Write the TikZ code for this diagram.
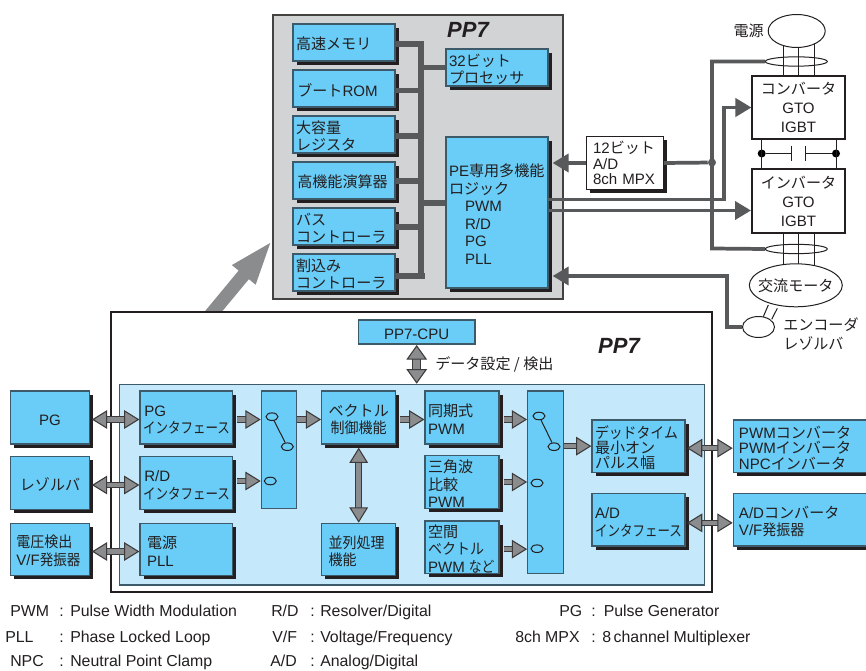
\documentclass[tikz,border=0pt]{standalone}
\usepackage{fontspec}
\usepackage{graphicx}
\setmainfont{Liberation Sans}
\newfontfamily\cjk{Noto Sans CJK JP}
\newcommand\jp[1]{{\cjk #1}}
\newcommand\jw[2]{\scalebox{#1}[1]{\cjk #2}}
\usetikzlibrary{arrows.meta,calc,shapes.geometric,shadows}
\definecolor{boxblue}{HTML}{69CDF7}
\definecolor{boxedge}{HTML}{3C5A6A}
\definecolor{lightblue}{HTML}{C5E9FA}
\definecolor{panelgray}{HTML}{D1D3D4}
\definecolor{wiregray}{HTML}{58595B}
\definecolor{arrgray}{HTML}{8A8C8E}
\definecolor{inkdark}{HTML}{231F20}
\tikzset{
  basefont/.style={font=\fontsize{11.3}{#1}\selectfont},
  basefont/.default=13.1,
  plainbox/.style={draw=boxedge,fill=boxblue,line width=.9pt,inner xsep=2.25pt,inner ysep=0pt,align=left,text=inkdark,basefont,execute at begin node={\rule{0pt}{12pt}}},
  shbox/.style={plainbox,general shadow={shadow xshift=2.8pt,shadow yshift=-2.8pt,fill=inkdark,draw=none}},
  whitebox/.style={draw=inkdark,fill=white,line width=.8pt,inner xsep=2.25pt,inner ysep=0pt,align=center,text=inkdark,basefont},
  bus/.style={draw=wiregray,line width=4.2pt},
  wire/.style={draw=wiregray,line width=2.8pt},
  wirearrow/.style={wire,-{Triangle[length=12pt,width=13.5pt,color=wiregray]}},
  blk/.style={draw=inkdark!75!arrgray,double=arrgray,line width=.8pt,double distance=3.4pt},
  blktip/.style={},
  blkone/.style={blk,-{Triangle[length=11.5pt,width=14pt,fill=arrgray,color=inkdark!75!arrgray,line width=.8pt]}},
  blktwo/.style={blk,{Triangle[length=11.5pt,width=14pt,fill=arrgray,color=inkdark!75!arrgray,line width=.8pt]}-{Triangle[length=11.5pt,width=14pt,fill=arrgray,color=inkdark!75!arrgray,line width=.8pt]}},
  blkwide/.style={draw=inkdark!75!arrgray,double=arrgray,line width=.8pt,double distance=5.4pt,{Triangle[length=11pt,width=15.5pt,fill=arrgray,color=inkdark!75!arrgray,line width=.8pt]}-{Triangle[length=11pt,width=15.5pt,fill=arrgray,color=inkdark!75!arrgray,line width=.8pt]}},
  thinl/.style={draw=inkdark,line width=.75pt},
  swc/.style={ellipse,draw=inkdark,line width=.75pt,inner sep=0pt,minimum width=9pt,minimum height=5.7pt},
  ring/.style={ellipse,draw=inkdark,line width=.75pt,inner sep=0pt,minimum width=46.5pt,minimum height=7pt},
  oval/.style={ellipse,draw=inkdark,fill=white,line width=.75pt,inner sep=0pt,align=center,text=inkdark,basefont},
  junction/.style={circle,inner sep=0pt,minimum size=6pt},
  lab/.style={text=inkdark,inner sep=0pt,align=left,basefont},
  ppsev/.style={text=inkdark,inner sep=0pt,font=\fontsize{16.5}{18}\selectfont\bfseries\itshape},
  legend/.style={text=inkdark,inner sep=0pt,anchor=base west,font=\fontsize{11.9}{13}\selectfont},
}
% [style]{name}{x1}{y1}{x2}{y2}{text}
\newcommand\bx[7][shbox]{%
  \node[#1,minimum width={(#5-#3)*.75pt},minimum height={(#6-#4)*.75pt},text width={(#5-#3)*.75pt-4.5pt}]
    (#2) at ({(#3+#5)/2},{(#4+#6)/2}) {#7};}
\newcommand\leg[7]{%
  \node[legend] (#1a) at (#2,#6) {#3};
  \node[legend] (#1c) at (#4,#6) {:};
  \node[legend] (#1d) at (#5,#6) {#7};}
\begin{document}
\begin{tikzpicture}[x=.75pt,y=-.75pt]
\useasboundingbox (0,0) rectangle (866,670);
\fill[white] (0,0) rectangle (866,670);

% upper panel
\node[draw=inkdark!85,fill=panelgray,line width=1.5pt,minimum width={290*.75pt},minimum height={284*.75pt},inner sep=0pt] (panel) at (418,157) {};
\node[ppsev] (pptop) at (468,30) {PP7};

% bus
\coordinate (bustop) at (421,41.5);
\coordinate (busbot) at (421,278.5);
\draw[bus] (bustop) -- (busbot);

\bx{mem}{293}{24}{395}{61}{\jp{高速メモリ}}
\bx{rom}{293}{70}{395}{107}{\hspace*{1pt}\jp{ブート}ROM}
\bx{reg}{293}{116}{395}{153}{\jp{大容量}\\\jp{レジスタ}}
\bx{alu}{293}{162}{395}{199}{\hspace*{1pt}\jp{高機能演算器}}
\bx{bsc}{293}{208}{395}{245}{\jp{バス}\\\jp{コントローラ}}
\bx{irq}{293}{254}{395}{291}{\jp{割込み}\\\jp{コントローラ}}
\bx{cpu}{446}{49}{548}{86}{32\jp{ビット}\\\jp{プロセッサ}}
\bx{pe}{446}{137}{548}{288}{PE\jp{専用多機能}\\\jp{ロジック}\\\hspace*{12pt}PWM\\\hspace*{12pt}R/D\\\hspace*{12pt}PG\\\hspace*{12pt}PLL}

\draw[bus] ($(mem.east)+(0,1.5)$) -- ($(mem.east)+(26,1.5)$);
\draw[bus] ($(rom.east)+(0,2)$) -- ($(rom.east)+(26,2)$);
\draw[bus] ($(reg.east)+(0,1.5)$) -- ($(reg.east)+(26,1.5)$);
\draw[bus] ($(alu.east)+(0,.5)$) -- ($(alu.east)+(26,.5)$);
\draw[bus] ($(bsc.east)+(0,.5)$) -- ($(bsc.east)+(26,.5)$);
\draw[bus] ($(irq.east)+(0,3.5)$) -- ($(irq.east)+(29,3.5)$);
\draw[bus] (cpu.west) -- (cpu.west -| bustop);
\draw[bus] ($(pe.west)+(0,-9.5)$) -- ($(pe.west)+(-25,-9.5)$);

% big arrow, under the lower frame
\coordinate (bigbase) at (208,318);
\coordinate (bigtip) at (272.7,240);
\draw[draw=arrgray,line width=10pt,-{Triangle[length=34pt,width=20pt,color=arrgray]}] (bigbase) -- (bigtip);

% lower frame
\node[draw=inkdark,fill=white,line width=1.6pt,minimum width={601*.75pt},minimum height={280*.75pt},inner sep=0pt] (frame) at (411.5,452) {};
\node[draw=boxedge,fill=lightblue,line width=.9pt,minimum width={585*.75pt},minimum height={200.7*.75pt},inner sep=0pt] (inner) at (411.8,484.7) {};
\node[ppsev] (ppbot) at (619,346) {PP7};

\bx[plainbox,align=center]{pcpu}{358.3}{320}{475}{344}{PP7-CPU}
\node[lab,anchor=west] (datal) at (435,364) {\jp{データ設定 / 検出}};

% left column
\bx[shbox,align=center]{pg}{10.7}{391}{89.3}{444}{PG}
\bx[shbox,align=center]{res}{10.7}{456.7}{89.3}{509.3}{\jp{レゾルバ}}
\bx[shbox,basefont=13.7]{vdet}{10.7}{523.3}{89.3}{575.7}{\hspace*{2pt}\jw{.93}{電圧検出}\\\hspace*{2pt}V/F\jw{.9}{発振器}}

% interface column
\bx{pgif}{140}{391}{232.7}{444}{\hspace*{1pt}PG\\\jw{.83}{インタフェース}}
\bx{rdif}{140}{456.7}{232.7}{509.3}{\hspace*{1pt}R/D\\\jw{.83}{インタフェース}}
\bx[shbox,basefont=14.2]{pll}{140}{523.3}{232.7}{575.7}{\hspace*{3pt}\jp{電源}\\\hspace*{3pt}PLL}

% switch 1
\bx[plainbox]{swa}{261.3}{391}{296.3}{508.3}{}
\node[swc] (sa1) at (272,416.7) {};
\node[swc] (sa2) at (287.3,446.7) {};
\node[swc] (sa3) at (270.3,481) {};
\draw[thinl] (sa1) -- (sa2);

% vector
\bx[shbox,align=center]{vec}{321.7}{391}{395.7}{444}{\jp{ベクトル}\\\jw{.93}{制御機能}}
\bx[shbox]{par}{321.7}{523.3}{395.7}{575.7}{\hspace*{3pt}\jw{.93}{並列処理}\\\hspace*{3pt}\jw{.93}{機能}}

% pwm column
\bx{syn}{425}{391}{499}{444}{\jp{同期式}\\PWM}
\bx{tri}{425}{455.7}{499}{508.3}{\jp{三角波}\\\jp{比較}\\PWM}
\bx{spc}{425}{521}{499}{573.3}{\jp{空間}\\\jw{.93}{ベクトル}\\PWM\hspace{3pt}\jw{.85}{など}}

% switch 2
\bx[plainbox]{swb}{527.7}{391}{563.3}{573.3}{}
\node[swc] (sb1) at (539,416) {};
\node[swc] (sb2) at (554,446.7) {};
\node[swc] (sb3) at (537,483) {};
\node[swc] (sb4) at (537,548.7) {};
\draw[thinl] (sb1) -- (sb2);

% right column
\bx[shbox,basefont=11.5]{dead}{592}{420}{685}{472.3}{\jw{.92}{デッドタイム}\\\jp{最小オン}\\\jp{パルス幅}}
\bx[shbox,basefont=13.3]{adif}{592}{493.7}{685}{546}{A/D\\\jw{.83}{インタフェース}}
\bx[shbox,basefont=11.5]{pwmc}{733.3}{420}{868}{472.3}{\hspace*{2pt}PWM\jp{コンバータ}\\\hspace*{2pt}PWM\jp{インバータ}\\\hspace*{2pt}NPC\jp{インバータ}}
\bx[shbox,basefont=12.6]{adc}{733.3}{493.7}{868}{546}{\hspace*{2pt}A/D\jp{コンバータ}\\\hspace*{2pt}V/F\jw{.93}{発振器}}

% block arrows
\draw[blktwo,shorten <=1.5pt] ($(pg.east)+(0,2)$) -- ($(pgif.west)+(0,2)$);
\draw[blktwo,shorten <=1.5pt] ($(res.east)+(0,2)$) -- ($(rdif.west)+(0,2)$);
\draw[blktwo,shorten <=1.5pt] ($(vdet.east)+(0,2)$) -- ($(pll.west)+(0,2)$);
\draw[blkone,shorten <=3pt] ($(pgif.east)+(0,2)$) -- ($(swa.west |- pgif.east)+(0,2)$);
\draw[blkone,shorten <=3pt] ($(rdif.east)+(0,-2)$) -- ($(swa.west |- rdif.east)+(0,-2)$);
\draw[blkone] ($(swa.east |- vec.west)+(0,2)$) -- ($(vec.west)+(0,2)$);
\draw[blkone,shorten <=3pt] ($(vec.east)+(0,2)$) -- ($(syn.west)+(0,2)$);
\draw[blktwo,shorten <=2.25pt] (vec.south) -- (par.north);
\coordinate (cpuarr) at (416.7,345);
\draw[blkwide] (cpuarr) -- (cpuarr |- inner.north);
\draw[blkone,shorten <=3pt] ($(syn.east)+(0,2)$) -- ($(swb.west |- syn.east)+(0,2)$);
\draw[blkone,shorten <=3pt] (tri.east) -- (swb.west |- tri.east);
\draw[blkone,shorten <=3pt] ($(spc.east)+(0,2)$) -- ($(swb.west |- spc.east)+(0,2)$);
\draw[blkone] (swb.east |- dead.west) -- (dead.west);
\draw[blktwo,shorten <=1pt] ($(dead.east)+(0,2)$) -- ($(pwmc.west)+(0,2)$);
\draw[blktwo,shorten <=1pt] ($(adif.east)+(0,3)$) -- ($(adc.west)+(0,3)$);

% power side
\foreach \dx in {-15.5,0,15.5} {
  \draw[thinl] (798.5+\dx,40) -- (798.5+\dx,76);
  \draw[thinl] (798.5+\dx,233) -- (798.5+\dx,275);
}
\node[oval,minimum width={57*.75pt},minimum height={33*.75pt}] (src) at (796.7,31) {};
\node[lab,anchor=east] (srcl) at (764,31) {\jp{電源}};
\node[ring] (ringa) at (796.3,61.5) {};
\node[ring] (ringb) at (796.3,249) {};

\node[whitebox,minimum width={93*.75pt},minimum height={63*.75pt},font=\fontsize{11.3}{14.2}\selectfont] (conv) at (798.5,107.5) {\jp{コンバータ}\\GTO\\IGBT};
\node[whitebox,minimum width={93*.75pt},minimum height={64*.75pt},font=\fontsize{11.3}{14.2}\selectfont] (inv) at (798.5,201) {\jp{インバータ}\\GTO\\IGBT};

% capacitor
\node[junction,fill=black] (capl) at (761.7,153.5) {};
\node[junction,fill=black] (capr) at (836,153.5) {};
\coordinate (pla) at (791.7,153.5);
\coordinate (plb) at (805,153.5);
\draw[thinl] (conv.south -| capl) -- (inv.north -| capl);
\draw[thinl] (conv.south -| capr) -- (inv.north -| capr);
\draw[thinl] (capl) -- (pla);
\draw[thinl] (capr) -- (plb);
\draw[thinl] ($(pla)+(0,-7.5)$) -- ($(pla)+(0,7.5)$);
\draw[thinl] ($(plb)+(0,-7.5)$) -- ($(plb)+(0,7.5)$);

% motor and encoder
\draw[thinl] (763.3,316.7) -- (768.3,305);
\draw[thinl] (771.7,319.3) -- (777.3,308.3);
\node[oval,minimum width={93*.75pt},minimum height={43*.75pt}] (motor) at (795.8,285.3) {\makebox[0pt]{\jp{交流モータ}}};
\node[oval,minimum width={32*.75pt},minimum height={21*.75pt}] (enc) at (758.5,327) {};
\node[lab,anchor=west] (encl1) at (783,325) {\jp{エンコーダ}};
\node[lab,anchor=west] (encl2) at (783,343) {\jp{レゾルバ}};

% A/D box with its shadow
\node[fill=inkdark,inner sep=0pt,minimum width={76.6*.75pt},minimum height={52.6*.75pt}] (mpxs) at (628.5,166.5) {};
\node[whitebox,align=left,text width={76.6*.75pt-4.5pt},minimum height={52.6*.75pt},font=\fontsize{11.3}{11.5}\selectfont] (mpx) at (625,163) {\hspace*{2.5pt}12\jp{ビット}\\\hspace*{2.5pt}A/D\\\hspace*{2.5pt}8ch MPX};

% wires
\node[junction,fill=wiregray] (tap) at (712,162.5) {};
\coordinate (tapa) at (712,61.5);
\coordinate (tapb) at (712,248.5);
\draw[wire] (ringa.west) -- (tapa) -- (tapb) -- (ringb.west);
\draw[wire] (mpx.east) -- (tap);
\draw[wirearrow,shorten >=3pt] (mpx.west) -- (mpx.west -| pe.east);
\coordinate (cva) at (724,199.5);
\coordinate (cvb) at (724,107.5);
\draw[wirearrow,shorten <=-1pt] (pe.east |- cva) -- (cva) -- (cvb) -- (conv.west);
\coordinate (iva) at (751,210.5);
\draw[wirearrow] (pe.east |- iva) -- (iva);
\coordinate (ena) at (726.7,327);
\coordinate (enb) at (726.7,276);
\draw[wirearrow,shorten >=3pt] (enc.west) -- (ena) -- (enb) -- (pe.east |- enb);

% legend
\leg{la}{10}{PWM}{59}{70}{616}{Pulse Width Modulation}
\leg{lb}{271}{R/D}{310}{320}{616}{Resolver/Digital}
\leg{lc}{559}{PG}{591}{603.5}{616}{Pulse Generator}
\leg{ld}{5}{PLL}{59}{70}{642}{Phase Locked Loop}
\leg{le}{272}{V/F}{310}{320}{642}{Voltage/Frequency}
\leg{lf}{515}{8ch MPX}{591}{602}{642}{8\,channel Multiplexer}
\leg{lg}{10}{NPC}{59}{70}{666}{Neutral Point Clamp}
\leg{lh}{270}{A/D}{310}{320}{666}{Analog/Digital}
\end{tikzpicture}
\end{document}
